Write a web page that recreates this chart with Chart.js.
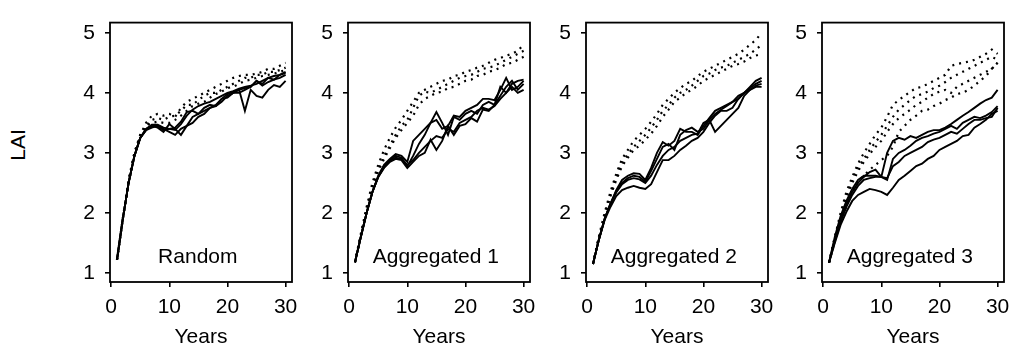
<!DOCTYPE html>
<html>
<head>
<meta charset="utf-8">
<script src="https://cdn.jsdelivr.net/npm/chart.js@4.4.1/dist/chart.umd.min.js"></script>
<style>
    html, body { margin: 0; padding: 0; background: #fff; overflow: hidden; }
    body { width: 1011px; height: 344px; position: relative; }
    canvas { position: absolute; top: 0; }
    #lai {
        position: absolute; left: 18px; top: 145px;
        transform: translate(-50%, -50%) rotate(-90deg);
        font: 21px "Liberation Sans", Arial, sans-serif; color: #000;
        white-space: nowrap;
    }
</style>
</head>
<body>
<div id="lai">LAI</div>
<canvas id="c0" width="243" height="350"></canvas>
<canvas id="c1" width="243" height="350"></canvas>
<canvas id="c2" width="243" height="350"></canvas>
<canvas id="c3" width="243" height="350"></canvas>
<script>
// Data
const years = [1,2,3,4,5,6,7,8,9,10,11,12,13,14,15,16,17,18,19,20,21,22,23,24,25,26,27,28,29,30];
const xTicks = [0, 10, 20, 30];
const yTicks = [1, 2, 3, 4, 5];
const panelTitles = ['Random', 'Aggregated 1', 'Aggregated 2', 'Aggregated 3'];

// Random
const randomSolid1 = [1.22,1.9,2.5,2.95,3.25,3.4,3.47,3.47,3.42,3.4,3.38,3.48,3.62,3.72,3.78,3.82,3.85,3.9,3.95,4.0,4.03,4.07,4.1,4.12,4.15,4.2,4.25,4.28,4.3,4.33];
const randomSolid2 = [1.22,1.9,2.5,2.95,3.25,3.38,3.45,3.42,3.35,3.48,3.4,3.3,3.45,3.6,3.65,3.7,3.75,3.8,3.9,3.98,4.02,4.05,4.08,4.1,4.2,4.12,4.18,4.22,4.25,4.3];
const randomSolid3 = [1.22,1.9,2.5,2.95,3.25,3.38,3.42,3.45,3.4,3.35,3.3,3.4,3.45,3.5,3.6,3.65,3.75,3.78,3.85,3.95,4.0,4.05,3.7,4.05,3.95,3.92,4.05,4.13,4.1,4.2];
const randomSolid4 = [1.22,1.9,2.5,2.95,3.25,3.4,3.45,3.45,3.38,3.4,3.42,3.52,3.68,3.7,3.65,3.75,3.8,3.78,3.9,3.92,4.0,4.0,4.05,4.1,4.2,4.15,4.25,4.22,4.3,4.35];
const randomDot1 = [1.22,1.9,2.55,3.0,3.3,3.5,3.62,3.65,3.62,3.65,3.6,3.75,3.85,3.9,3.95,4.0,4.05,4.1,4.15,4.2,4.25,4.28,4.3,4.3,4.32,4.35,4.4,4.4,4.45,4.5];
const randomDot2 = [1.22,1.9,2.55,3.0,3.3,3.45,3.55,3.58,3.55,3.6,3.62,3.7,3.8,3.8,3.88,3.95,4.0,4.0,4.05,4.1,4.15,4.2,4.25,4.25,4.3,4.3,4.35,4.35,4.38,4.42];
const randomDot3 = [1.22,1.9,2.5,2.95,3.28,3.45,3.5,3.52,3.5,3.5,3.55,3.62,3.7,3.78,3.82,3.85,3.92,3.98,4.02,4.08,4.1,4.15,4.2,4.22,4.25,4.28,4.3,4.32,4.35,4.38];

// Aggregated 1
const agg1Solid1 = [1.18,1.6,2.0,2.35,2.62,2.8,2.9,2.98,2.95,2.85,3.2,3.3,3.4,3.5,3.55,3.4,3.45,3.62,3.6,3.7,3.75,3.8,3.9,3.9,3.88,4.05,4.25,4.05,4.1,4.2];
const agg1Solid2 = [1.18,1.6,2.0,2.35,2.6,2.78,2.88,2.95,2.92,2.78,2.95,3.15,3.3,3.5,3.68,3.5,3.3,3.6,3.55,3.65,3.7,3.65,3.8,3.85,3.8,4.1,4.0,4.15,4.2,4.22];
const agg1Solid3 = [1.18,1.6,2.0,2.35,2.6,2.75,2.85,2.9,2.88,2.75,2.85,2.95,3.0,3.22,3.05,3.2,3.45,3.3,3.45,3.48,3.58,3.52,3.72,3.7,3.8,3.95,4.1,4.2,4.05,4.15];
const agg1Solid4 = [1.18,1.6,2.0,2.35,2.6,2.76,2.86,2.92,2.9,2.8,2.88,3.0,3.1,3.2,3.28,3.25,3.4,3.35,3.5,3.55,3.6,3.7,3.75,3.72,3.78,3.9,4.0,4.1,4.0,4.05];
const agg1Dot1 = [1.18,1.65,2.1,2.5,2.8,3.05,3.25,3.42,3.55,3.7,3.85,4.0,4.05,4.1,4.15,4.2,4.22,4.28,4.3,4.35,4.38,4.42,4.45,4.5,4.55,4.58,4.62,4.65,4.7,4.8];
const agg1Dot2 = [1.18,1.62,2.05,2.45,2.72,2.95,3.12,3.3,3.45,3.55,3.75,3.95,4.02,4.0,4.05,4.1,4.15,4.2,4.25,4.28,4.3,4.35,4.4,4.42,4.45,4.5,4.55,4.6,4.65,4.7];
const agg1Dot3 = [1.18,1.62,2.05,2.42,2.7,2.9,3.08,3.25,3.38,3.5,3.62,3.8,3.9,3.95,4.0,4.02,4.08,4.1,4.15,4.2,4.22,4.28,4.3,4.35,4.38,4.42,4.48,4.5,4.55,4.6];

// Aggregated 2
const agg2Solid1 = [1.15,1.55,1.9,2.15,2.38,2.55,2.62,2.66,2.65,2.55,2.75,3.0,3.18,3.12,3.2,3.4,3.35,3.35,3.3,3.45,3.58,3.7,3.75,3.8,3.85,3.95,4.0,4.1,4.2,4.25];
const agg2Solid2 = [1.15,1.55,1.9,2.15,2.36,2.5,2.58,2.62,2.6,2.52,2.7,2.9,3.1,3.15,3.05,3.3,3.38,3.42,3.35,3.4,3.55,3.65,3.72,3.78,3.85,3.9,4.0,4.08,4.15,4.2];
const agg2Solid3 = [1.15,1.55,1.9,2.15,2.34,2.48,2.55,2.58,2.56,2.5,2.62,2.8,2.95,3.05,3.1,3.2,3.25,3.3,3.32,3.5,3.55,3.35,3.45,3.55,3.65,3.75,3.95,4.05,4.12,4.15];
const agg2Solid4 = [1.15,1.55,1.88,2.1,2.28,2.38,2.42,2.45,2.42,2.4,2.48,2.68,2.88,2.88,2.95,3.05,3.12,3.2,3.25,3.35,3.5,3.62,3.7,3.7,3.75,3.9,4.0,4.05,4.1,4.1];
const agg2Dot1 = [1.15,1.6,2.0,2.35,2.65,2.9,3.05,3.2,3.3,3.4,3.52,3.65,3.8,3.9,4.0,4.08,4.15,4.2,4.28,4.35,4.4,4.45,4.5,4.55,4.6,4.65,4.72,4.8,4.88,5.0];
const agg2Dot2 = [1.15,1.58,1.95,2.3,2.58,2.82,2.98,3.1,3.2,3.3,3.42,3.55,3.7,3.8,3.92,4.0,4.05,4.12,4.2,4.28,4.32,4.38,4.42,4.45,4.5,4.55,4.6,4.65,4.72,4.8];
const agg2Dot3 = [1.15,1.58,1.95,2.28,2.55,2.78,2.92,3.05,3.12,3.22,3.32,3.45,3.6,3.72,3.85,3.92,4.0,4.05,4.12,4.2,4.25,4.3,4.35,4.4,4.45,4.48,4.52,4.58,4.62,4.65];

// Aggregated 3
const agg3Solid1 = [1.17,1.6,1.95,2.2,2.4,2.55,2.62,2.62,2.62,2.6,3.0,3.2,3.25,3.22,3.28,3.25,3.3,3.35,3.38,3.38,3.42,3.48,3.55,3.62,3.68,3.75,3.82,3.88,3.92,4.05];
const agg3Solid2 = [1.17,1.55,1.9,2.15,2.35,2.5,2.6,2.68,2.72,2.6,2.55,2.9,3.0,3.05,3.12,3.2,3.25,3.28,3.32,3.35,3.4,3.45,3.4,3.5,3.55,3.6,3.58,3.62,3.68,3.78];
const agg3Solid3 = [1.17,1.52,1.85,2.1,2.3,2.45,2.55,2.58,2.6,2.6,2.58,2.78,2.85,2.95,3.0,3.05,3.1,3.18,3.22,3.25,3.3,3.35,3.32,3.4,3.48,3.55,3.55,3.58,3.6,3.75];
const agg3Solid4 = [1.17,1.5,1.8,2.02,2.2,2.3,2.35,2.4,2.38,2.35,2.3,2.42,2.55,2.62,2.7,2.78,2.82,2.9,2.95,3.05,3.1,3.15,3.2,3.28,3.3,3.42,3.48,3.55,3.65,3.7];
const agg3Dot1 = [1.17,1.6,2.0,2.35,2.6,2.82,3.0,3.15,3.3,3.42,3.6,3.8,3.88,3.95,4.02,4.08,4.1,4.15,4.2,4.25,4.3,4.45,4.48,4.5,4.52,4.55,4.6,4.65,4.72,4.65];
const agg3Dot2 = [1.17,1.58,1.95,2.3,2.55,2.75,2.9,3.05,3.18,3.3,3.45,3.6,3.72,3.8,3.88,3.95,3.98,4.02,4.08,4.12,4.18,4.25,4.3,4.35,4.4,4.45,4.5,4.55,4.6,4.55];
const agg3Dot3 = [1.17,1.55,1.92,2.25,2.5,2.7,2.85,2.98,3.1,3.2,3.35,3.48,3.58,3.65,3.72,3.8,3.85,3.92,3.98,4.02,4.05,4.0,4.1,4.15,4.2,4.25,4.3,4.35,4.4,4.5];
const agg3Dot4 = [1.17,1.52,1.85,2.12,2.35,2.52,2.62,2.72,2.8,2.88,2.95,3.1,3.35,3.45,3.55,3.62,3.7,3.72,3.78,3.82,3.88,3.92,3.98,4.0,4.05,4.12,4.2,4.28,4.4,4.5];

const panelSolid = [
    [randomSolid1, randomSolid2, randomSolid3, randomSolid4],
    [agg1Solid1, agg1Solid2, agg1Solid3, agg1Solid4],
    [agg2Solid1, agg2Solid2, agg2Solid3, agg2Solid4],
    [agg3Solid1, agg3Solid2, agg3Solid3, agg3Solid4]
];
const panelDotted = [
    [randomDot1, randomDot2, randomDot3],
    [agg1Dot1, agg1Dot2, agg1Dot3],
    [agg2Dot1, agg2Dot2, agg2Dot3],
    [agg3Dot1, agg3Dot2, agg3Dot3, agg3Dot4]
];

// Layout of the four frames (left edge of each plot box, px)
const frameLefts = [110, 348, 586, 822];
const yAxisWidth = 45;
const padRight = 16;
const frameTop = 13;
const frameBottom = 282;
const canvasHeight = 350;

const FONT = '"Liberation Sans", Arial, Helvetica, sans-serif';
Chart.defaults.font.family = FONT;
Chart.defaults.font.size = 21;
Chart.defaults.color = '#000';

// Box around the plot area and panel name
const framePlugin = {
    id: 'frame',
    afterDatasetsDraw(chart, args, opts) {
        const { ctx, chartArea: a, scales } = chart;
        ctx.save();
        ctx.strokeStyle = '#000';
        ctx.lineWidth = 1.8;
        ctx.strokeRect(a.left, a.top, a.right - a.left, a.bottom - a.top);
        ctx.font = '21px ' + FONT;
        ctx.fillStyle = '#000';
        ctx.textAlign = 'center';
        ctx.textBaseline = 'alphabetic';
        ctx.fillText(opts.text, scales.x.getPixelForValue(14.9), scales.y.getPixelForValue(1.16));
        ctx.restore();
    }
};

function toPoints(values) {
    return values.map((v, i) => ({ x: years[i], y: v }));
}

panelTitles.forEach((title, p) => {
    const canvas = document.getElementById('c' + p);
    canvas.style.left = (frameLefts[p] - yAxisWidth) + 'px';

    const datasets = [];
    panelDotted[p].forEach(series => {
        datasets.push({
            data: toPoints(series),
            borderColor: '#000',
            borderWidth: 2.2,
            borderDash: [2, 5],
            pointRadius: 0,
            tension: 0
        });
    });
    panelSolid[p].forEach(series => {
        datasets.push({
            data: toPoints(series),
            borderColor: '#000',
            borderWidth: 1.9,
            pointRadius: 0,
            tension: 0
        });
    });

    new Chart(canvas, {
        type: 'line',
        data: { datasets },
        options: {
            responsive: false,
            animation: false,
            devicePixelRatio: 1,
            layout: { padding: { top: frameTop, right: padRight, bottom: 0, left: 0 } },
            plugins: {
                legend: { display: false },
                tooltip: { enabled: false },
                frame: { text: title }
            },
            scales: {
                x: {
                    type: 'linear',
                    min: -0.2,
                    max: 31.1,
                    afterBuildTicks: s => { s.ticks = xTicks.map(v => ({ value: v })); },
                    afterFit: s => { s.height = canvasHeight - frameBottom; },
                    grid: { drawOnChartArea: false, drawTicks: true, tickLength: 5, color: '#000', lineWidth: 1.6 },
                    border: { display: false },
                    ticks: { padding: 8, maxRotation: 0, font: { size: 21 } },
                    title: { display: true, text: 'Years', font: { size: 21 }, padding: { top: 0, bottom: 0 } }
                },
                y: {
                    min: 0.85,
                    max: 5.17,
                    afterBuildTicks: s => { s.ticks = yTicks.map(v => ({ value: v })); },
                    afterFit: s => { s.width = yAxisWidth; },
                    grid: { drawOnChartArea: false, drawTicks: true, tickLength: 5, color: '#000', lineWidth: 1.6 },
                    border: { display: false },
                    ticks: { padding: 10, font: { size: 21 } }
                }
            }
        },
        plugins: [framePlugin]
    });
});
</script>
</body>
</html>
